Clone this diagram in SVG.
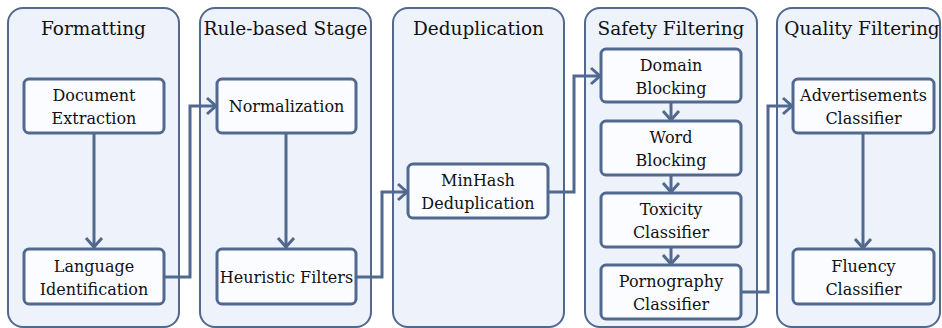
<svg xmlns="http://www.w3.org/2000/svg" width="942" height="328" viewBox="0 0 942 328">
<defs>
<style>
.panel{fill:#eef2fb;stroke:#51698f;stroke-width:2}
.node{fill:#fbfcff;stroke:#51698f;stroke-width:3}
.title{font-family:'DejaVu Serif','Liberation Serif',serif;font-size:18.5px;fill:#111;text-anchor:middle}
.lbl{font-family:'DejaVu Serif','Liberation Serif',serif;font-size:16px;fill:#111;text-anchor:middle}
.conn{fill:none;stroke:#51698f;stroke-width:3;marker-end:url(#arr)}
</style>
<marker id="arr" markerUnits="userSpaceOnUse" markerWidth="20" markerHeight="20" viewBox="-12 -10 14 20" refX="0" refY="0" orient="auto">
<path d="M-10,-8 L-1,0 L-10,8" fill="none" stroke="#51698f" stroke-width="3"/>
</marker>
</defs>
<rect width="942" height="328" fill="#ffffff"/>
<g id="panel-formatting"><rect class="panel" x="8" y="8" width="171" height="319" rx="15"/><text class="title" x="93.5" y="35">Formatting</text></g>
<g id="panel-rule"><rect class="panel" x="200" y="8" width="171" height="319" rx="15"/><text class="title" x="285.5" y="35">Rule-based Stage</text></g>
<g id="panel-dedup"><rect class="panel" x="393" y="8" width="171" height="319" rx="15"/><text class="title" x="478.5" y="35">Deduplication</text></g>
<g id="panel-safety"><rect class="panel" x="585" y="8" width="172" height="319" rx="15"/><text class="title" x="671" y="35">Safety Filtering</text></g>
<g id="panel-quality"><rect class="panel" x="777" y="8" width="163" height="319" rx="15"/><text class="title" x="862" y="35">Quality Filtering</text></g>

<g id="connectors">
<path class="conn" d="M94,133 V248"/>
<path class="conn" d="M164,277 H190 V106 H217"/>
<path class="conn" d="M286,133 V248"/>
<path class="conn" d="M356,277 H382 V192 H408"/>
<path class="conn" d="M548,192 H574 V76 H601"/>
<path class="conn" d="M671,102 V121"/>
<path class="conn" d="M671,175 V193"/>
<path class="conn" d="M671,247 V265"/>
<path class="conn" d="M741,292 H768 V106 H793"/>
<path class="conn" d="M863,133 V249"/>
</g>

<g id="node-doc"><rect class="node" x="24" y="79" width="140" height="54" rx="5"/><text class="lbl" x="94" y="101">Document</text><text class="lbl" x="94" y="124">Extraction</text></g>
<g id="node-lang"><rect class="node" x="24" y="249" width="140" height="55" rx="5"/><text class="lbl" x="94" y="272">Language</text><text class="lbl" x="94" y="295">Identification</text></g>
<g id="node-norm"><rect class="node" x="217" y="79" width="139" height="54" rx="5"/><text class="lbl" x="286.5" y="111.5">Normalization</text></g>
<g id="node-heur"><rect class="node" x="217" y="249" width="139" height="55" rx="5"/><text class="lbl" x="286.5" y="282.5">Heuristic Filters</text></g>
<g id="node-minhash"><rect class="node" x="408" y="164" width="140" height="54" rx="5"/><text class="lbl" x="478" y="186">MinHash</text><text class="lbl" x="478" y="209">Deduplication</text></g>
<g id="node-domain"><rect class="node" x="601" y="49" width="140" height="53" rx="5"/><text class="lbl" x="671" y="71">Domain</text><text class="lbl" x="671" y="94">Blocking</text></g>
<g id="node-word"><rect class="node" x="601" y="121" width="140" height="54" rx="5"/><text class="lbl" x="671" y="143">Word</text><text class="lbl" x="671" y="166">Blocking</text></g>
<g id="node-tox"><rect class="node" x="601" y="193" width="140" height="54" rx="5"/><text class="lbl" x="671" y="215">Toxicity</text><text class="lbl" x="671" y="238">Classifier</text></g>
<g id="node-porn"><rect class="node" x="601" y="265" width="140" height="54" rx="5"/><text class="lbl" x="671" y="287">Pornography</text><text class="lbl" x="671" y="310">Classifier</text></g>
<g id="node-ads"><rect class="node" x="793" y="79" width="141" height="54" rx="5"/><text class="lbl" x="863.5" y="101">Advertisements</text><text class="lbl" x="863.5" y="124">Classifier</text></g>
<g id="node-fluency"><rect class="node" x="793" y="249" width="141" height="55" rx="5"/><text class="lbl" x="863.5" y="272">Fluency</text><text class="lbl" x="863.5" y="295">Classifier</text></g>
</svg>
